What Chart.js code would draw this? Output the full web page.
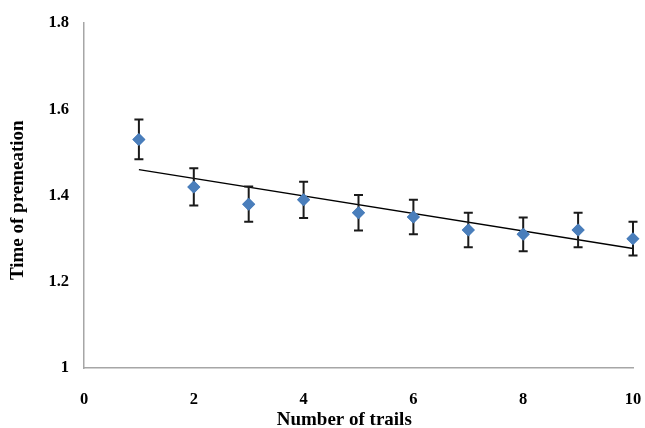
<!DOCTYPE html>
<html>
<head>
<meta charset="utf-8">
<script src="https://cdn.jsdelivr.net/npm/chart.js@4.4.1/dist/chart.umd.min.js"></script>
<style>
  html, body { margin: 0; padding: 0; background: #ffffff; }
  #wrap { width: 645px; height: 428px; position: relative; }
</style>
</head>
<body>
<div id="wrap"><canvas id="c" width="645" height="428"></canvas></div>
<script>
// ---- data ----
const trials = [1, 2, 3, 4, 5, 6, 7, 8, 9, 10];
const timeValues = [1.53, 1.42, 1.38, 1.39, 1.36, 1.35, 1.32, 1.31, 1.32, 1.30];
const errorValues = [0.046, 0.043, 0.041, 0.042, 0.041, 0.040, 0.040, 0.039, 0.040, 0.039];
const trendX = [1, 10];
const trendY = [1.46, 1.277];
const xTicks = [0, 2, 4, 6, 8, 10];
const yTicks = [1, 1.2, 1.4, 1.6, 1.8];

const FONT = "'Liberation Serif', 'Times New Roman', serif";

const errorBarPlugin = {
  id: 'errorBars',
  afterDatasetsDraw(chart) {
    const ds = chart.data.datasets[1];
    const meta = chart.getDatasetMeta(1);
    const xs = chart.scales.x, ys = chart.scales.y;
    const ctx = chart.ctx;
    ctx.save();
    ctx.strokeStyle = '#1a1a1a';
    ctx.lineWidth = 2;
    ds.data.forEach((p, i) => {
      const px = xs.getPixelForValue(p.x);
      const top = ys.getPixelForValue(p.y + errorValues[i]);
      const bot = ys.getPixelForValue(p.y - errorValues[i]);
      ctx.beginPath();
      ctx.moveTo(px, top); ctx.lineTo(px, bot);
      ctx.moveTo(px - 4.5, top); ctx.lineTo(px + 4.5, top);
      ctx.moveTo(px - 4.5, bot); ctx.lineTo(px + 4.5, bot);
      ctx.stroke();
    });
    ctx.restore();
    // redraw points on top of bars
    meta.data.forEach(el => el.draw(ctx, chart.chartArea));
  }
};

new Chart(document.getElementById('c'), {
  type: 'scatter',
  data: {
    datasets: [
      {
        type: 'line',
        data: trendX.map((x, i) => ({ x: x, y: trendY[i] })),
        borderColor: '#000000',
        borderWidth: 1.5,
        pointRadius: 0,
        fill: false,
        order: 1
      },
      {
        data: trials.map((x, i) => ({ x: x, y: timeValues[i] })),
        pointStyle: 'rectRot',
        pointRadius: 6.5,
        pointHoverRadius: 6.5,
        backgroundColor: '#4a7ebb',
        borderColor: '#4a7ebb',
        borderWidth: 0,
        order: 0
      }
    ]
  },
  options: {
    responsive: false,
    animation: false,
    events: [],
    layout: { padding: { top: 23, right: 12, left: 0, bottom: 0 } },
    plugins: { legend: { display: false }, tooltip: { enabled: false } },
    scales: {
      x: {
        type: 'linear',
        min: 0, max: 10,
        afterBuildTicks: (s) => { s.ticks = xTicks.map(v => ({ value: v })); },
        afterFit: (s) => { s.height = 60; s.paddingLeft = 0; s.paddingRight = 0; },
        grid: { display: false, drawTicks: false },
        border: { display: true, color: '#a6a6a6', width: 1.5 },
        ticks: {
          color: '#000', padding: 22,
          font: { family: FONT, size: 16.5, weight: 'bold' },
          maxRotation: 0, autoSkip: false
        },
        title: {
          display: true, text: 'Number of trails      ', color: '#000',
          font: { family: FONT, size: 19, weight: 'bold' },
          padding: { top: 0, bottom: -3 }
        }
      },
      y: {
        type: 'linear',
        min: 1, max: 1.8,
        afterBuildTicks: (s) => { s.ticks = yTicks.map(v => ({ value: v })); },
        afterFit: (s) => { s.width = 84; s.paddingTop = 0; s.paddingBottom = 0; },
        grid: { display: false, drawTicks: false },
        border: { display: true, color: '#a6a6a6', width: 1.5 },
        ticks: {
          color: '#000', padding: 15,
          font: { family: FONT, size: 16.5, weight: 'bold' },
          callback: (v) => String(Math.round(v * 10) / 10)
        },
        title: {
          display: true, text: 'Time of premeation  ', color: '#000',
          font: { family: FONT, size: 19, weight: 'bold' },
          padding: { top: 7, bottom: 0 }
        }
      }
    }
  },
  plugins: [errorBarPlugin]
});
</script>
</body>
</html>
